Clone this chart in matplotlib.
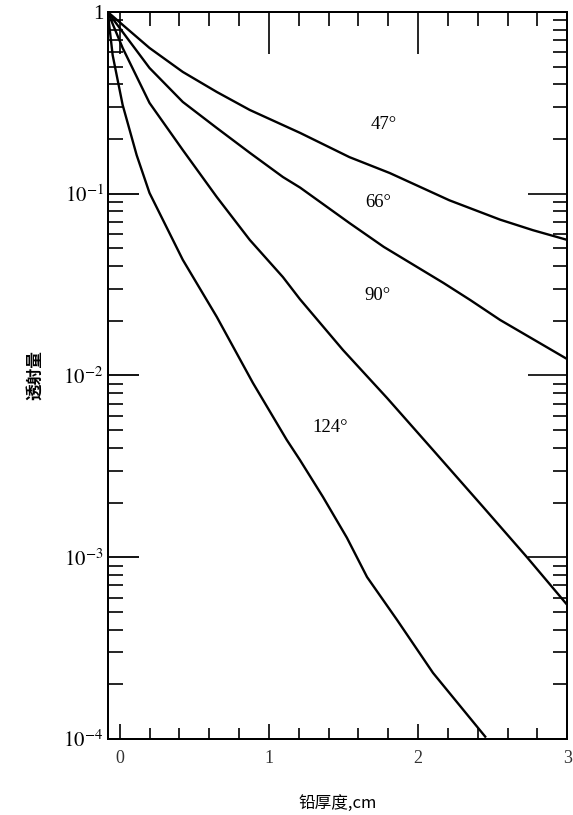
import numpy as np
import matplotlib
matplotlib.use("Agg")
import matplotlib.pyplot as plt
from matplotlib.ticker import FixedLocator, LogLocator, NullFormatter

plt.rcParams['font.family'] = ['Liberation Serif', 'Noto Sans CJK SC', 'DejaVu Sans']
plt.rcParams['mathtext.fontset'] = 'stix'

# lead thickness (cm) and transmission
x_47 = [-0.08, 0.20, 0.423, 0.651, 0.872, 1.21, 1.54, 1.81, 2.21, 2.55, 2.77, 3.0]
y_47 = [1.0, 0.634, 0.468, 0.363, 0.289, 0.216, 0.159, 0.13, 0.092, 0.072, 0.063, 0.0557]

x_66 = [-0.08, 0.20, 0.423, 0.651, 0.872, 1.094, 1.21, 1.54, 1.77, 2.17, 2.35, 2.55, 3.0]
y_66 = [1.0, 0.492, 0.32, 0.23, 0.168, 0.1236, 0.108, 0.069, 0.051, 0.0323, 0.026, 0.0202, 0.0123]

x_90 = [-0.08, 0.02, 0.20, 0.423, 0.651, 0.872, 1.094, 1.208, 1.497, 1.792, 2.10, 2.436, 2.73, 3.0]
y_90 = [1.0, 0.634, 0.316, 0.174, 0.0959, 0.0557, 0.0348, 0.0263, 0.0138, 0.00752, 0.00389,
        0.00189, 0.001, 0.000546]

x_124 = [-0.08, -0.047, 0.02, 0.114, 0.20, 0.423, 0.651, 0.893, 1.12, 1.208, 1.362, 1.523,
         1.658, 1.859, 2.10, 2.45]
y_124 = [1.0, 0.579, 0.308, 0.163, 0.101, 0.0433, 0.021, 0.0091, 0.00442, 0.00343, 0.00215,
         0.00128, 0.000778, 0.000452, 0.000231, 0.000103]

angle_labels = ['47°', '66°', '90°', '124°']
label_pos = [(1.77, 0.24), (1.73, 0.089), (1.73, 0.0274), (1.41, 0.0052)]

x_ticks = [0, 1, 2, 3]
y_ticks = [1e-4, 1e-3, 1e-2, 1e-1, 1]
y_ticklabels = ['$10^{-4}$', '$10^{-3}$', '$10^{-2}$', '$10^{-1}$', '1']

fig = plt.figure(figsize=(5.73, 8.15), dpi=100)
ax = fig.add_axes([0.188, 0.0933, 0.802, 0.892])

for xs, ys in [(x_47, y_47), (x_66, y_66), (x_90, y_90), (x_124, y_124)]:
    ax.plot(xs, ys, color='black', lw=1.7)

for lab, (lx, ly) in zip(angle_labels, label_pos):
    ax.text(lx, ly, lab, fontsize=13.5, ha='center', va='center')

ax.set_yscale('log')
ax.set_xlim(-0.08, 3.0)
ax.set_ylim(1e-4, 1)

minor_x = np.arange(0, 3.01, 0.2)

ax.set_xticks(x_ticks)
ax.set_xticklabels([str(t) for t in x_ticks], fontsize=13, color='#333333')
ax.xaxis.set_minor_locator(FixedLocator(minor_x))
ax.set_yticks(y_ticks)
ax.set_yticklabels(y_ticklabels, fontsize=15)
ax.yaxis.set_minor_locator(LogLocator(base=10, subs=np.arange(2, 10)))
ax.yaxis.set_minor_formatter(NullFormatter())

ax.tick_params(axis='x', which='major', direction='in', length=11, width=1.2, pad=8)
ax.tick_params(axis='x', which='minor', direction='in', length=8, width=1.2)
ax.tick_params(axis='y', which='major', direction='in', length=22, width=1.3, pad=3)
ax.tick_params(axis='y', which='minor', direction='in', length=11, width=1.2)

# top and right ticks have their own lengths
top = ax.twiny()
top.set_xlim(ax.get_xlim())
top.set_xticks(x_ticks)
top.xaxis.set_minor_locator(FixedLocator(minor_x))
top.tick_params(which='major', direction='in', length=30, width=1.2, labeltop=False)
top.tick_params(which='minor', direction='in', length=10, width=1.2)

right = ax.twinx()
right.set_yscale('log')
right.set_ylim(ax.get_ylim())
right.set_yticks(y_ticks)
right.yaxis.set_minor_locator(LogLocator(base=10, subs=np.arange(2, 10)))
right.yaxis.set_minor_formatter(NullFormatter())
right.tick_params(which='major', direction='in', length=28, width=1.2, labelright=False)
right.tick_params(which='minor', direction='in', length=10, width=1.2)

for a in (ax, top, right):
    for sp in a.spines.values():
        sp.set_linewidth(1.3)

ax.set_xlabel('铅厚度,cm', family=['Noto Sans CJK SC', 'DejaVu Sans'], fontsize=12, labelpad=20)
ax.set_ylabel('透射量', family=['Noto Sans CJK SC', 'DejaVu Sans'], fontsize=12,
              fontweight='bold', labelpad=14)

fig.savefig('out.png', dpi=100)
